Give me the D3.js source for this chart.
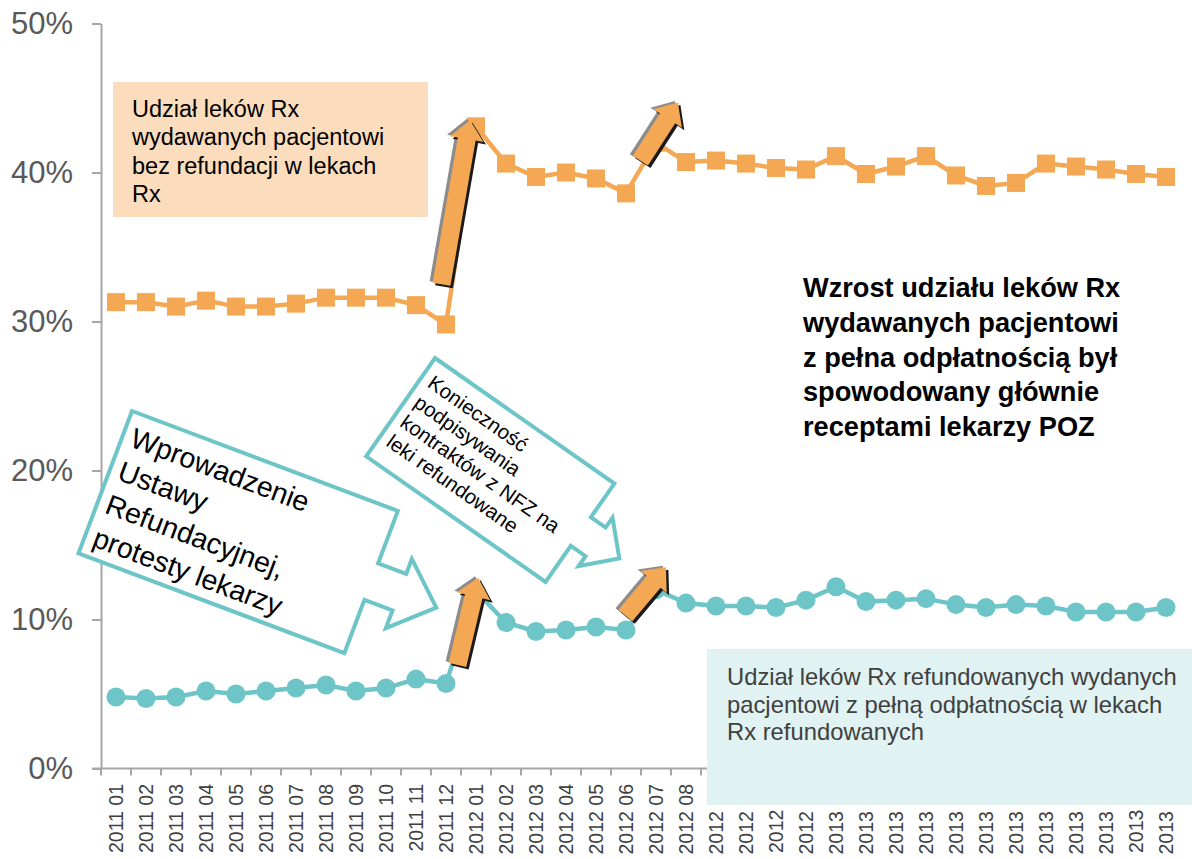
<!DOCTYPE html>
<html>
<head>
<meta charset="utf-8">
<script src="https://cdn.jsdelivr.net/npm/d3@7"></script>
<style>
  body { margin: 0; background: #fff; }
  svg { display: block; font-family: Arial, "Liberation Sans", sans-serif; }
</style>
</head>
<body>
<svg id="chart" width="1192" height="859"></svg>
<script>
// month labels on x axis
let monthLabels = [
  "2011 01", "2011 02", "2011 03", "2011 04", "2011 05", "2011 06",
  "2011 07", "2011 08", "2011 09", "2011 10", "2011 11", "2011 12",
  "2012 01", "2012 02", "2012 03", "2012 04", "2012 05", "2012 06",
  "2012 07", "2012 08", "2012 09", "2012 10", "2012 11", "2012 12",
  "2013 01", "2013 02", "2013 03", "2013 04", "2013 05", "2013 06",
  "2013 07", "2013 08", "2013 09", "2013 10", "2013 11", "2013 12"
];

// % of Rx drugs dispensed without reimbursement
let noRefundShare = [
  31.3, 31.3, 31.0, 31.4, 31.0, 31.0, 31.2, 31.6, 31.6, 31.6, 31.1, 29.8,
  43.1, 40.6, 39.7, 40.0, 39.6, 38.6, 42.0, 40.7, 40.8, 40.6, 40.3, 40.2,
  41.1, 39.9, 40.4, 41.1, 39.8, 39.1, 39.3, 40.6, 40.4, 40.2, 39.9, 39.7
];

// % of reimbursed Rx drugs sold at full price
let fullPriceShare = [
  4.8, 4.7, 4.8, 5.2, 5.0, 5.2, 5.4, 5.6, 5.2, 5.4, 6.0, 5.7,
  11.9, 9.8, 9.2, 9.3, 9.5, 9.3, 12.0, 11.1, 10.9, 10.9, 10.8, 11.3,
  12.2, 11.2, 11.3, 11.4, 11.0, 10.8, 11.0, 10.9, 10.5, 10.5, 10.5, 10.8
];

let yTicks = [0, 10, 20, 30, 40, 50];

// jump arrows, in (month index, percent) units
let jumpArrows = [
  { from: [10.85, 32.5], to: [11.8, 43.5] },
  { from: [17.48, 40.8], to: [18.73, 44.7] },
  { from: [11.38, 6.95], to: [12.07, 12.8] },
  { from: [16.98, 10.27], to: [18.33, 13.5] }
];

let orangeColor = "#f4a853";
let tealColor = "#6dc5c8";
let axisColor = "#a6a6a6";

let svg = d3.select("#chart");

let x = d3.scaleBand()
  .domain(monthLabels)
  .range([101, 1181]);

let y = d3.scaleLinear()
  .domain([0, 50])
  .range([768.5, 23.5]);

// index based x for annotations
let xi = d3.scaleLinear()
  .domain([0, monthLabels.length - 1])
  .range([x(monthLabels[0]) + x.bandwidth() / 2, x(monthLabels[monthLabels.length - 1]) + x.bandwidth() / 2]);

// y axis
let yAxis = svg.append("g")
  .attr("transform", "translate(101,0)")
  .call(d3.axisLeft(y).tickValues(yTicks).tickFormat((d) => d + "%").tickSize(9).tickSizeOuter(0).tickPadding(19));
yAxis.select(".domain").attr("stroke", axisColor).attr("stroke-width", 2);
yAxis.selectAll(".tick line").attr("stroke", axisColor).attr("stroke-width", 2);
yAxis.selectAll(".tick text")
  .style("font-family", "Arial, 'Liberation Sans', sans-serif")
  .style("font-size", "31px")
  .attr("fill", "#595959");

// x axis
svg.append("line")
  .attr("x1", 92)
  .attr("x2", 1181)
  .attr("y1", y(0))
  .attr("y2", y(0))
  .attr("stroke", axisColor)
  .attr("stroke-width", 2);

let boundaries = monthLabels.map((d) => x(d)).concat([x(monthLabels[monthLabels.length - 1]) + x.bandwidth()]);
svg.selectAll(".xtick")
  .data(boundaries)
  .enter().append("line")
  .attr("class", "xtick")
  .attr("x1", (d) => d)
  .attr("x2", (d) => d)
  .attr("y1", y(0))
  .attr("y2", y(0) + 7)
  .attr("stroke", axisColor)
  .attr("stroke-width", 2);

svg.selectAll(".xlabel")
  .data(monthLabels)
  .enter().append("text")
  .attr("class", "xlabel")
  .attr("transform", (d) => "translate(" + (x(d) + x.bandwidth() / 2) + "," + 784 + ")rotate(-90)")
  .attr("dy", "0.35em")
  .style("text-anchor", "end")
  .style("font-size", "19.5px")
  .attr("fill", "#404040")
  .text((d) => d);

// series lines
let line = d3.line()
  .x((d, i) => x(monthLabels[i]) + x.bandwidth() / 2)
  .y((d) => y(d));

svg.append("path")
  .datum(noRefundShare)
  .attr("d", line)
  .attr("fill", "none")
  .attr("stroke", orangeColor)
  .attr("stroke-width", 4.5);

svg.selectAll(".sq")
  .data(noRefundShare)
  .enter().append("rect")
  .attr("class", "sq")
  .attr("x", (d, i) => x(monthLabels[i]) + x.bandwidth() / 2 - 9)
  .attr("y", (d) => y(d) - 9)
  .attr("width", 18)
  .attr("height", 18)
  .attr("fill", orangeColor);

svg.append("path")
  .datum(fullPriceShare)
  .attr("d", line)
  .attr("fill", "none")
  .attr("stroke", tealColor)
  .attr("stroke-width", 4.5);

svg.selectAll(".dot")
  .data(fullPriceShare)
  .enter().append("circle")
  .attr("class", "dot")
  .attr("cx", (d, i) => x(monthLabels[i]) + x.bandwidth() / 2)
  .attr("cy", (d) => y(d))
  .attr("r", 9.5)
  .attr("fill", tealColor);

// legend boxes
svg.append("rect")
  .attr("x", 113).attr("y", 82)
  .attr("width", 315).attr("height", 135)
  .attr("fill", "#fbdcbc");
addLines(svg, 132, 117, 28.3, "23.5px", "#000", "normal",
  ["Udział leków Rx", "wydawanych pacjentowi", "bez refundacji w lekach", "Rx"]);

svg.append("rect")
  .attr("x", 707).attr("y", 649)
  .attr("width", 485).attr("height", 156)
  .attr("fill", "#e0f2f2");
addLines(svg, 727, 685, 27.5, "23.8px", "#404040", "normal",
  ["Udział leków Rx refundowanych wydanych",
   "pacjentowi z pełną odpłatnością w lekach",
   "Rx refundowanych"]);

// headline text
addLines(svg, 803, 297, 34.8, "27.2px", "#000", "bold",
  ["Wzrost udziału leków Rx",
   "wydawanych pacjentowi",
   "z pełna odpłatnością był",
   "spowodowany głównie",
   "receptami lekarzy POZ"]);

// callouts
addCallout(svg, 132, 411, 20.6, 284, 152, 56, 95, 314, 40, 114, 354, 9, 34, 35.5, "28.5px",
  ["Wprowadzenie", "Ustawy", "Refundacyjnej,", "protesty lekarzy"]);
addCallout(svg, 435, 358, 35, 219, 120, 41, 76, 237, 29, 88, 266, 9, 28, 24, "20.5px",
  ["Konieczność", "podpisywania", "kontraktów z NFZ na", "leki refundowane"]);

// jump arrows
for (let a of jumpArrows) {
  let p0 = [xi(a.from[0]), y(a.from[1])];
  let p1 = [xi(a.to[0]), y(a.to[1])];
  let pts = arrowPoints(p0, p1, 18, 34, 19);
  svg.append("polygon")
    .attr("points", pts.join(" "))
    .attr("transform", "translate(-3,-1.5)")
    .attr("fill", "#8c8c8c");
  svg.append("polygon")
    .attr("points", pts.join(" "))
    .attr("transform", "translate(2.5,2.5)")
    .attr("fill", "#1a1a1a");
  svg.append("polygon")
    .attr("points", pts.join(" "))
    .attr("fill", orangeColor);
}

function addLines(svg, x0, y0, lh, size, color, weight, lines) {
  let counter = 0;
  for (let t of lines) {
    svg.append("text")
      .attr("x", x0)
      .attr("y", y0 + lh * counter)
      .text(t)
      .style("font-size", size)
      .style("font-weight", weight)
      .attr("fill", color);
    counter = counter + 1;
  }
}

function addCallout(svg, ox, oy, angle, w, h, s0, s1, su, h0, h1, tip, tx, ty, lh, size, lines) {
  let g = svg.append("g")
    .attr("transform", "translate(" + ox + "," + oy + ")rotate(" + angle + ")");
  let tipV = (h0 + h1) / 2;
  let shape = [[0, 0], [w, 0], [w, s0], [su, s0], [su, h0], [tip, tipV], [su, h1], [su, s1], [w, s1], [w, h], [0, h]];
  g.append("polygon")
    .attr("points", shape.join(" "))
    .attr("fill", "#fff")
    .attr("stroke", tealColor)
    .attr("stroke-width", 4)
    .attr("stroke-linejoin", "miter");
  let counter = 0;
  for (let t of lines) {
    g.append("text")
      .attr("x", tx)
      .attr("y", ty + lh * counter)
      .text(t)
      .style("font-size", size)
      .attr("fill", "#000");
    counter = counter + 1;
  }
}

function arrowPoints(p0, p1, bodyW, headW, headL) {
  let dx = p1[0] - p0[0], dy = p1[1] - p0[1];
  let len = Math.sqrt(dx * dx + dy * dy);
  let ux = dx / len, uy = dy / len;
  let nx = -uy, ny = ux;
  let bx = p1[0] - ux * headL, by = p1[1] - uy * headL;
  return [
    [p0[0] + nx * bodyW / 2, p0[1] + ny * bodyW / 2],
    [bx + nx * bodyW / 2, by + ny * bodyW / 2],
    [bx + nx * headW / 2, by + ny * headW / 2],
    [p1[0], p1[1]],
    [bx - nx * headW / 2, by - ny * headW / 2],
    [bx - nx * bodyW / 2, by - ny * bodyW / 2],
    [p0[0] - nx * bodyW / 2, p0[1] - ny * bodyW / 2]
  ];
}
</script>
</body>
</html>
